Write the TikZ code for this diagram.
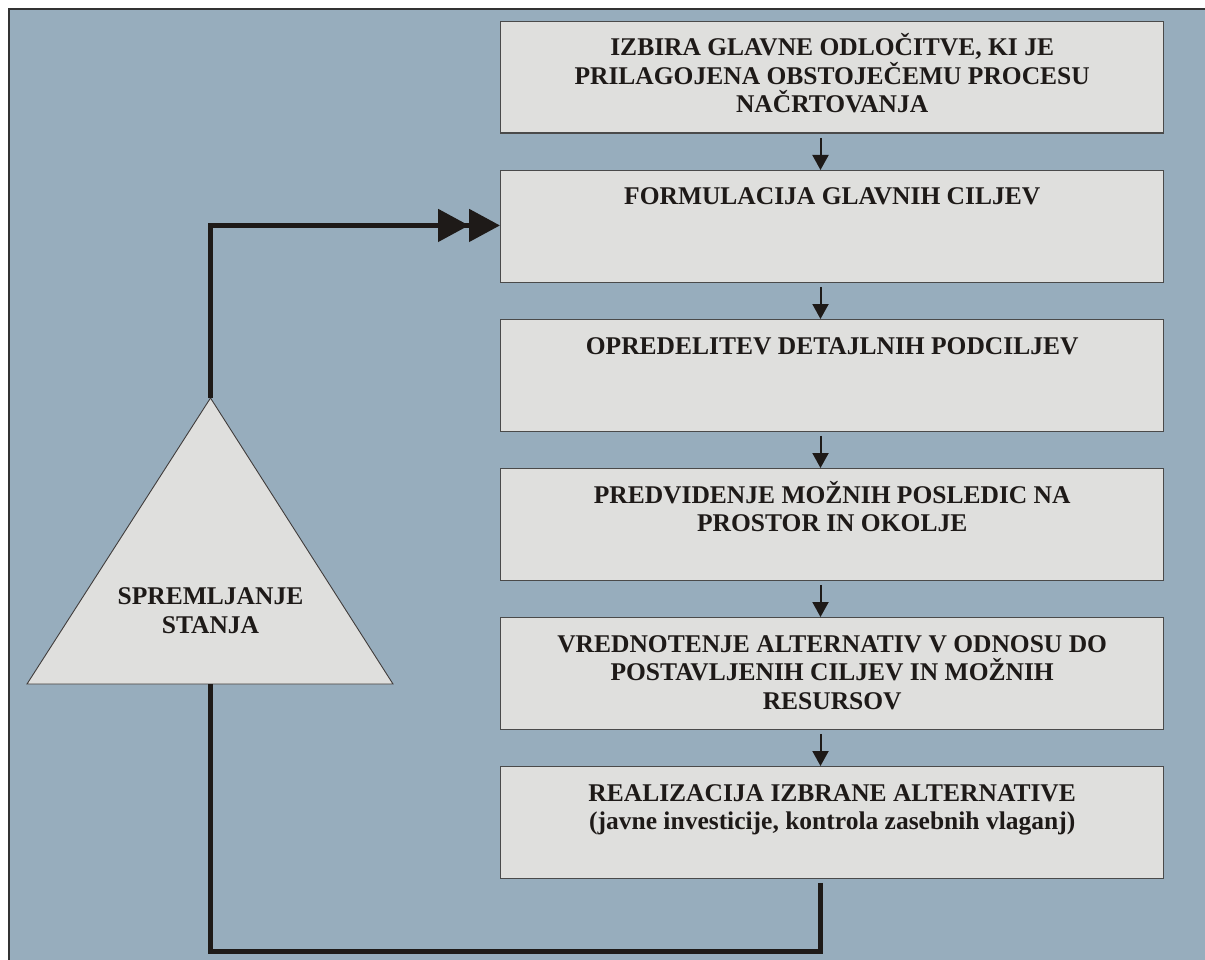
\documentclass[tikz,border=0pt]{standalone}
\usepackage{fontspec}
\setmainfont{Liberation Serif}
\usetikzlibrary{arrows.meta,calc}
\definecolor{panel}{HTML}{97ADBD}
\definecolor{boxfill}{HTML}{DFDFDD}
\definecolor{boxline}{HTML}{4A4A4A}
\definecolor{ink}{HTML}{1E1A18}
\begin{document}
\begin{tikzpicture}[x=1pt,y=-1pt,
  stepbox/.style={draw=boxline,line width=1.4pt,fill=boxfill,rectangle,
    anchor=north west,minimum width=663pt,minimum height=111.5pt,inner sep=0pt},
  lbl/.style={text=ink,font=\bfseries\fontsize{25.5}{28.5}\selectfont,
    align=center,anchor=base,inner sep=0pt},
  flow/.style={draw=ink,line width=2pt,-{Triangle[length=15pt,width=16pt]}},
  loopline/.style={draw=ink,line width=5pt},
  feed/.style={loopline,-{Triangle[length=31pt,width=32pt]Triangle[length=31pt,width=32pt]}}]
\useasboundingbox (0,0) rectangle (1205,960);
% panel and its frame
\fill[panel] (9,9) rectangle (1205,960);
\draw[draw=black!80,line width=2.5pt] (9,960) -- (9,9) -- (1205,9);

% process steps
\node[stepbox] (b1) at (500,21) {};
\node[stepbox] (b2) at (500,170) {};
\node[stepbox] (b3) at (500,319) {};
\node[stepbox] (b4) at (500,468) {};
\node[stepbox] (b5) at (500,617) {};
\node[stepbox] (b6) at (500,766) {};

% labels: the base anchor sits on the last line, so shift by the line count
\node[lbl] (t1) at ($(b1.north)+(0,92)$) {IZBIRA GLAVNE ODLOČITVE, KI JE\\PRILAGOJENA OBSTOJEČEMU PROCESU\\NAČRTOVANJA};
\node[lbl] (t2) at ($(b2.north)+(0,35)$) {FORMULACIJA GLAVNIH CILJEV};
\node[lbl] (t3) at ($(b3.north)+(0,35)$) {OPREDELITEV DETAJLNIH PODCILJEV};
\node[lbl] (t4) at ($(b4.north)+(0,63.5)$) {PREDVIDENJE MOŽNIH POSLEDIC NA\\PROSTOR IN OKOLJE};
\node[lbl] (t5) at ($(b5.north)+(0,92)$) {VREDNOTENJE ALTERNATIV V ODNOSU DO\\POSTAVLJENIH CILJEV IN MOŽNIH\\RESURSOV};
\node[lbl] (t6) at ($(b6.north)+(0,63.5)$) {REALIZACIJA IZBRANE ALTERNATIVE\\(javne investicije, kontrola zasebnih vlaganj)};

% arrows between steps
\foreach \a/\b in {b1/b2,b2/b3,b3/b4,b4/b5,b5/b6}{
  \draw[flow] ($(\a.south west)+(320.5,4)$) -- ($(\b.north west)+(320.5,0)$);
}

% monitoring triangle
\coordinate (triTop) at (210.5,398);
\coordinate (triBot) at (210.5,684);
\draw[draw=ink!85,line width=0.9pt,fill=boxfill] (triTop) -- (393,684) -- (27,684) -- cycle;
\node[lbl] (tri) at (210.5,633) {SPREMLJANJE\\STANJA};

% feedback loop
\coordinate (fb) at ($(b6.south west)+(320.5,4)$);
\draw[loopline] (fb) -- ++(0,69) -| (triBot);
\draw[feed] (triTop) |- ($(b2.west)+(0,-1)$);
\end{tikzpicture}
\end{document}
